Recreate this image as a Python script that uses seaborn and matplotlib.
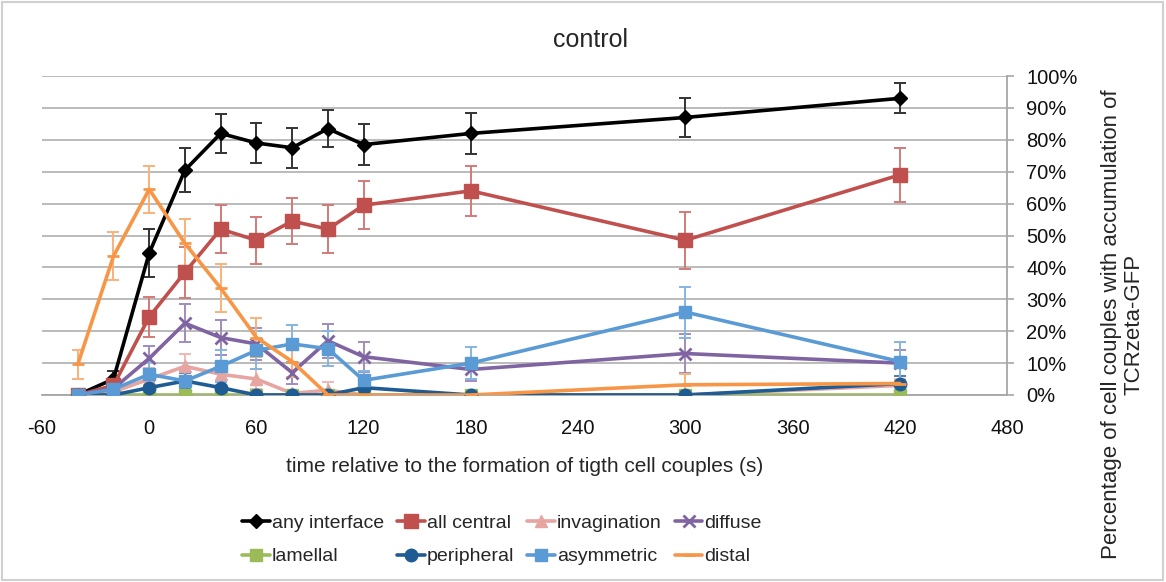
import numpy as np
import pandas as pd
import seaborn as sns
import matplotlib
matplotlib.use("Agg")
import matplotlib.pyplot as plt
from matplotlib.patches import Rectangle

# ---------------- data ----------------
time = [-40, -20, 0, 20, 40, 60, 80, 100, 120, 180, 300, 420]

any_interface = [0, 5, 44.5, 70.5, 82, 79, 77.5, 83.5, 78.5, 82, 87, 93]
any_interface_err = [0, 2.5, 7.5, 7, 6, 6.3, 6.3, 5.7, 6.4, 6.3, 6.1, 4.7]

all_central = [0, 3, 24.5, 38.5, 52, 48.5, 54.5, 52, 59.5, 64, 48.5, 69]
all_central_err = [0, 2, 6.3, 8, 7.5, 7.4, 7.3, 7.5, 7.5, 7.8, 9, 8.5]

invagination = [0, 1, 5, 9, 6.5, 5, 0.5, 1.5, 0, 0, 0, 3]
invagination_err = [0, 1, 3.5, 4, 3.5, 3, 1, 2.5, 0, 0, 0, 2]

diffuse = [0, 2, 11.5, 22.5, 18, 16, 7, 17, 12, 8, 13, 10]
diffuse_err = [0, 1.5, 4, 6, 5.5, 5, 3.5, 5.3, 4.7, 3.5, 6, 4]

lamellal = [0, 0, 0, 0, 0, 0, 0, 0, 0, 0, 0, 0]
lamellal_err = [0, 0, 0, 0, 0, 0, 0, 0, 0, 0, 0, 0]

peripheral = [0, 0, 2.3, 4.4, 2.3, 0, 0, 0, 2.3, 0, 0, 3.6]
peripheral_err = [0, 0, 2, 2.5, 2, 0, 0, 0, 2, 0, 0, 2.5]

asymmetric = [0, 1.8, 6.5, 4.4, 9, 14, 16, 14.5, 4.6, 10, 26, 10.5]
asymmetric_err = [0, 1.5, 4, 3, 5, 6, 6, 5.5, 3, 5, 8, 6]

distal = [9.6, 43.5, 64.5, 47.5, 33.5, 18, 10.5, 0, 0, 0, 3.2, 3.6]
distal_err = [4.5, 7.5, 7.3, 7.7, 7.5, 6, 5, 0, 0, 0, 3.4, 1]

series_names = ["any interface", "all central", "invagination", "diffuse",
                "lamellal", "peripheral", "asymmetric", "distal"]
series_values = [any_interface, all_central, invagination, diffuse,
                 lamellal, peripheral, asymmetric, distal]
series_errors = [any_interface_err, all_central_err, invagination_err, diffuse_err,
                 lamellal_err, peripheral_err, asymmetric_err, distal_err]

x_ticks = [-60, 0, 60, 120, 180, 240, 300, 360, 420, 480]
y_ticks = [0, 10, 20, 30, 40, 50, 60, 70, 80, 90, 100]
y_tick_labels = [f"{v}%" for v in y_ticks]

# ---------------- styles ----------------
colors = ["#000000", "#C0504D", "#E6A5A1", "#8064A2",
          "#9BBB59", "#1F5C94", "#5B9BD5", "#F79646"]
err_colors = ["#333333", "#D27B78", "#EDB9B6", "#A08CC0",
              "#B5CF86", "#4F7EAE", "#86B5E2", "#F9B27A"]
markers = ["D", "s", "^", "x", "s", "o", "s", "_"]
msizes = [7, 9.5, 8.5, 9, 8, 9, 9, 9]

sns.set_theme(style="white")
plt.rcParams["font.family"] = ["Liberation Sans", "DejaVu Sans"]

fig = plt.figure(figsize=(11.66, 5.82), dpi=100)
ax = fig.add_axes([42 / 1166, 1 - 395 / 582, (1007 - 42) / 1166, (395 - 76) / 582])

df = pd.DataFrame({
    "time": np.tile(time, len(series_names)),
    "value": np.concatenate(series_values),
    "series": np.repeat(series_names, len(time)),
})

for i, name in enumerate(series_names):
    sub = df[df["series"] == name]
    ax.errorbar(sub["time"], sub["value"], yerr=series_errors[i], fmt="none",
                ecolor=err_colors[i], elinewidth=1.4, capsize=4, capthick=1.4,
                zorder=2 + i * 0.1)
    sns.lineplot(data=sub, x="time", y="value", ax=ax, color=colors[i],
                 linewidth=2.6, marker=markers[i], markersize=msizes[i],
                 mec=colors[i], mfc=colors[i], mew=2 if markers[i] in ("x", "_") else 1,
                 label=name, zorder=3 + i * 0.1)

ax.set_xlim(-60, 480)
ax.set_ylim(0, 100)
ax.set_xticks(x_ticks)
ax.set_xticklabels([str(t) for t in x_ticks])
ax.set_yticks(y_ticks)
ax.set_yticklabels(y_tick_labels)
ax.yaxis.tick_right()
ax.yaxis.set_label_position("right")
ax.set_xlabel("")
ax.set_ylabel("")

ax.grid(axis="y", color="#b5b5b5", linewidth=1.3)
ax.grid(axis="x", visible=False)
for s in ["left", "top"]:
    ax.spines[s].set_visible(False)
for s in ["right", "bottom"]:
    ax.spines[s].set_color("#a6a6a6")
    ax.spines[s].set_linewidth(1.3)
ax.tick_params(axis="both", which="both", direction="out", length=5, width=1.2,
               color="#a6a6a6", labelsize=14.5, labelcolor="#111111")
ax.tick_params(axis="x", pad=12)
ax.tick_params(axis="y", pad=9, right=True, left=False)

fig.text(590 / 1166, 1 - 40 / 582, "control", ha="center", va="center", fontsize=18)
fig.text(525 / 1166, 1 - 467 / 582,
         "time relative to the formation of tigth cell couples (s)",
         ha="center", va="center", fontsize=15)
fig.text(1123 / 1166, 1 - 324 / 582,
         "Percentage of cell couples with accumulation of\nTCRzeta-GFP",
         ha="center", va="center", rotation=90, multialignment="center",
         fontsize=16, linespacing=1.1)

handles, labels = ax.get_legend_handles_labels()
if ax.get_legend():
    ax.get_legend().remove()
order = [0, 4, 1, 5, 2, 6, 3, 7]
fig.legend([handles[k] for k in order], [labels[k] for k in order],
           loc="center", bbox_to_anchor=(502 / 1166, 1 - 540 / 582), ncol=4,
           frameon=False, fontsize=14, handlelength=1.4, handletextpad=0.1,
           columnspacing=0.7, labelspacing=0.8)

fig.patches.append(Rectangle((0.002, 0.004), 0.995, 0.992, transform=fig.transFigure,
                             fill=False, edgecolor="#d0d0d0", linewidth=1.5))

fig.savefig("out.png", dpi=100)
